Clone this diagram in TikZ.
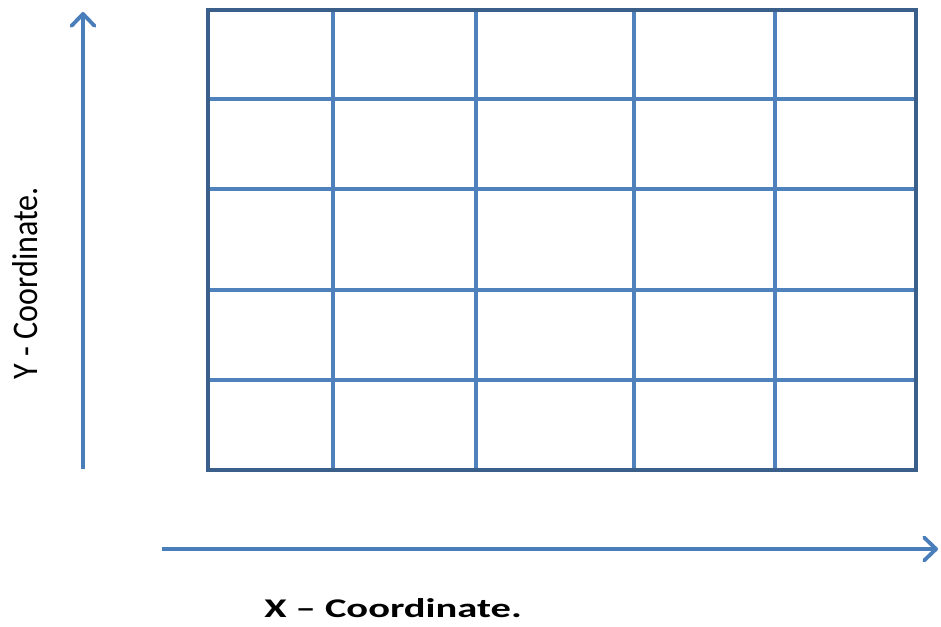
\documentclass[tikz,border=0pt]{standalone}
\usepackage{fontspec}
\setmainfont{Carlito}
\usetikzlibrary{arrows.meta}
\definecolor{outerblue}{HTML}{3A5F8B}
\definecolor{gridblue}{HTML}{4F81BD}
\definecolor{axisblue}{HTML}{4A7EBB}
\tikzset{
  gridline/.style={draw=gridblue, line width=3.4pt},
  outerline/.style={draw=outerblue, line width=4.4pt, line join=miter},
  axisarrow/.style={draw=axisblue, line width=3.8pt, -{Straight Barb[length=12pt,width=23pt,line cap=round, line join=round]}},
  axislabel/.style={inner sep=0pt, text=black}
}
\begin{document}
\begin{tikzpicture}[x=1pt,y=-1pt]
\useasboundingbox (0,0) rectangle (941,626);
% inner grid
\foreach \xx in {333,476,634,775} \draw[gridline] (\xx,10) -- (\xx,470);
\foreach \yy in {99,189,290,380} \draw[gridline] (208,\yy) -- (916,\yy);
% outer frame
\draw[outerline] (208,10) rectangle (916,470);
% axes
\coordinate (ystart) at (83,469);
\coordinate (yend) at (83,12);
\coordinate (xstart) at (162,549);
\coordinate (xend) at (938,549);
\draw[axisarrow] (ystart) -- (yend);
\draw[axisarrow] (xstart) -- (xend);
% labels
\node[axislabel, anchor=base, rotate=90] (ylabel) at (37,283) {\scalebox{0.89}[1]{\fontsize{36}{36}\selectfont Y - Coordinate.}};
\node[axislabel, anchor=base] (xlabel) at (393,617) {\scalebox{1.5}[1]{\fontsize{27}{27}\selectfont\bfseries X – Coordinate.}};
\end{tikzpicture}
\end{document}
